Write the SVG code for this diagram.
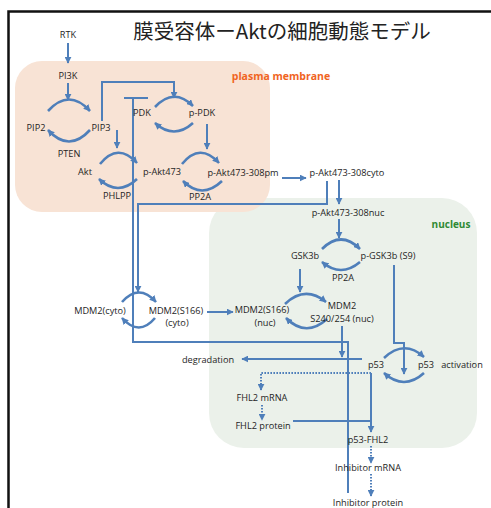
<svg xmlns="http://www.w3.org/2000/svg" width="491" height="508" viewBox="0 0 491 508">
<defs>
<marker id="ah" viewBox="0 0 10 10" refX="9" refY="5" markerWidth="7" markerHeight="7" markerUnits="userSpaceOnUse" orient="auto">
<path d="M0,0 L10,5 L0,10 z" fill="#4f7fba"/>
</marker>
<style>
.t{font-family:"Open Sans","Liberation Sans",sans-serif;font-size:9.2px;fill:#1e1e1e;text-anchor:middle}
.c{fill:none;stroke:#4f7fba;stroke-width:2}
.a{marker-end:url(#ah)}
.d{stroke-dasharray:1.6 1.4}
.arc{fill:none;stroke:#4f7fba;stroke-width:2.6;marker-end:url(#ah)}
</style>
</defs>
<rect width="491" height="508" fill="#fff"/>
<path d="M8.5,508 V11.5 H491" fill="none" stroke="#111" stroke-width="2.5"/>
<text x="282" y="39" font-family="'Noto Sans CJK JP','Noto Sans',sans-serif" font-size="20.5" fill="#222" text-anchor="middle">膜受容体ーAktの細胞動態モデル</text>
<g id="nucleus">
<rect x="209" y="198" width="268" height="250" rx="35" fill="#ebf1ea"/>
<text x="451" y="228" font-family="'Open Sans','Liberation Sans',sans-serif" font-size="10" font-weight="bold" fill="#2f8a34" text-anchor="middle">nucleus</text>
</g>
<g id="plasma-membrane">
<rect x="15" y="61" width="255" height="151" rx="27" fill="#f8e3d5"/>
<text x="281" y="80" font-family="'Open Sans','Liberation Sans',sans-serif" font-size="10.5" font-weight="bold" fill="#f0641e" text-anchor="middle">plasma membrane</text>
</g>
<g id="connectors">
<path class="c a" d="M68,43 V63"/>
<path class="c a" d="M68,83 V100"/>
<path class="c a" d="M102,121 V82 H174 V98"/>
<path class="c a" d="M117,130 V148"/>
<path class="c a" d="M207,124 V149"/>
<path class="c a" d="M282,178 H306"/>
<path class="c a" d="M339,180 V204"/>
<path class="c a" d="M327,181 V204 H138 V292"/>
<path class="c a" d="M339,219 V238"/>
<path class="c a" d="M300,269 V292"/>
<path class="c a" d="M207,312 H233"/>
<path class="c" d="M348,493 V342 H133 V98 M124,98 H148"/>
<path class="c a" d="M342,326 V357"/>
<path class="c a" d="M362,359 H242"/>
<path class="c a" d="M394,265 V343 H404 V374"/>
<path class="c d a" d="M371,373 H261 V390"/>
<path class="c a" d="M371,373 V432"/>
<path class="c" d="M293,421 H371"/>
<path class="c d a" d="M262,405 V420"/>
<path class="c d a" d="M371,446 V463"/>
<path class="c d a" d="M371,474 V496"/>
</g>
<g id="cycle-pip">
<path class="arc" d="M48,111 Q69,88 90,111"/>
<path class="arc" d="M90,130 Q69,153 48,130"/>
<text class="t" x="36" y="131">PIP2</text>
<text class="t" x="101" y="131">PIP3</text>
<text class="t" x="69" y="157">PTEN</text>
</g>
<g id="rtk"><text class="t" x="68" y="38">RTK</text></g>
<g id="pi3k"><text class="t" x="68" y="79">PI3K</text></g>
<g id="cycle-pdk">
<path class="arc" d="M155,107 Q174,87 193,106"/>
<path class="arc" d="M193,123 Q174,140 155,123"/>
<text class="t" x="142" y="116">PDK</text>
<text class="t" x="202" y="116">p-PDK</text>
</g>
<g id="cycle-akt">
<path class="arc" d="M100,164 Q118,142 137,163"/>
<path class="arc" d="M137,179 Q118,197 99,179"/>
<text class="t" x="85" y="175">Akt</text>
<text class="t" x="162" y="175">p-Akt473</text>
<text class="t" x="117" y="199">PHLPP</text>
</g>
<g id="cycle-pakt">
<path class="arc" d="M182,164 Q200,142 219,163"/>
<path class="arc" d="M222,181 Q202,200 183,181"/>
<text class="t" x="243" y="176">p-Akt473-308pm</text>
<text class="t" x="200" y="200">PP2A</text>
</g>
<g id="pakt-cyto"><text class="t" x="347" y="176">p-Akt473-308cyto</text></g>
<g id="pakt-nuc"><text class="t" x="348" y="216">p-Akt473-308nuc</text></g>
<g id="cycle-gsk3b">
<path class="arc" d="M322,249 Q341,230 360,249"/>
<path class="arc" d="M360,262 Q341,278 322,262"/>
<text class="t" x="305" y="259">GSK3b</text>
<text class="t" x="388" y="259">p-GSK3b (S9)</text>
<text class="t" x="343" y="281">PP2A</text>
</g>
<g id="cycle-mdm2-cyto">
<path class="arc" d="M122,302 Q139,283 156,302"/>
<path class="arc" d="M155,318 Q139,337 122,318"/>
<text class="t" x="100" y="314">MDM2(cyto)</text>
<text class="t" x="176" y="314">MDM2(S166)</text>
<text class="t" x="177" y="326">(cyto)</text>
</g>
<g id="cycle-mdm2-nuc">
<path class="arc" d="M285,304 Q305,285 326,302"/>
<path class="arc" d="M327,319 Q306,338 286,318"/>
<text class="t" x="262" y="313">MDM2(S166)</text>
<text class="t" x="265" y="326">(nuc)</text>
<text class="t" x="342" y="308.5">MDM2</text>
<text class="t" x="342" y="322">S240/254 (nuc)</text>
</g>
<g id="degradation"><text class="t" x="208" y="363">degradation</text></g>
<g id="cycle-p53">
<path class="arc" d="M384,358 Q404,339 424,357"/>
<path class="arc" d="M424,373 Q404,391 384,373"/>
<text class="t" x="376" y="368">p53</text>
<text class="t" x="426" y="368">p53</text>
<text class="t" x="462" y="368">activation</text>
</g>
<g id="fhl2-mrna"><text class="t" x="262" y="401">FHL2 mRNA</text></g>
<g id="fhl2-protein"><text class="t" x="263" y="429">FHL2 protein</text></g>
<g id="p53-fhl2"><text class="t" x="368" y="443">p53-FHL2</text></g>
<g id="inhibitor-mrna"><text class="t" x="368" y="471">Inhibitor mRNA</text></g>
<g id="inhibitor-protein"><text class="t" x="368" y="506">Inhibitor protein</text></g>
</svg>
